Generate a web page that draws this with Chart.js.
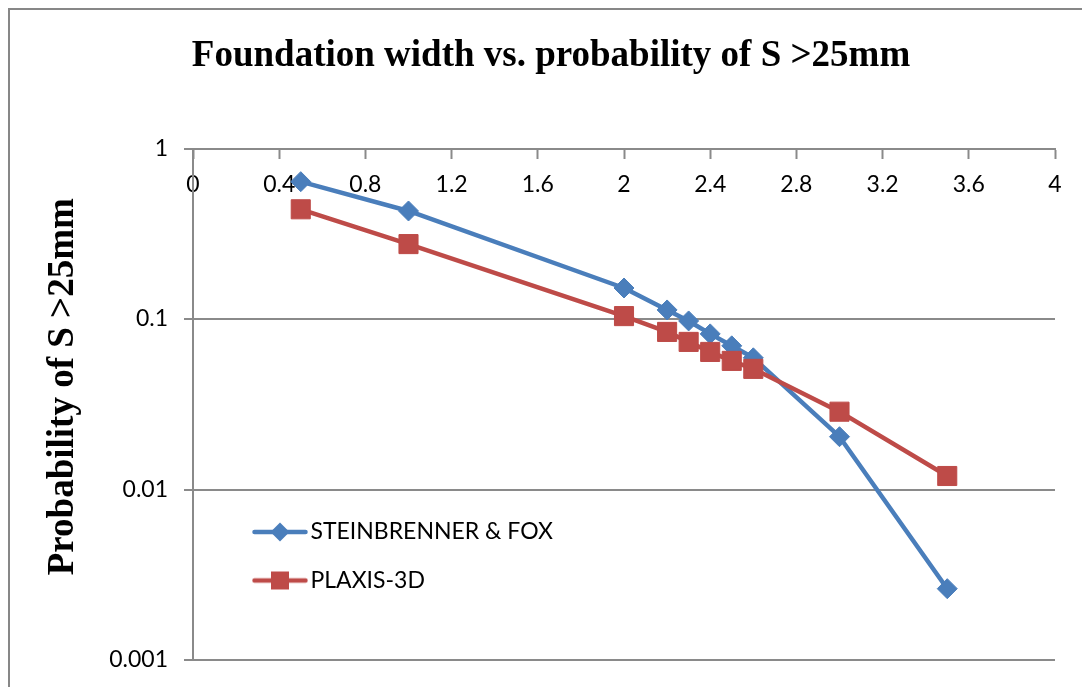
<!DOCTYPE html>
<html>
<head>
<meta charset="utf-8">
<script src="https://cdn.jsdelivr.net/npm/chart.js@4.4.1/dist/chart.umd.min.js"></script>
<style>
  html, body { margin: 0; padding: 0; background: #fff; overflow: hidden; width: 1082px; height: 687px; }
  #frame { position: absolute; left: 8px; top: 8px; width: 1200px; height: 800px; border: 2px solid #878787; box-sizing: border-box; }
  #wrap { position: absolute; left: 0; top: 0; width: 1102px; height: 700px; }
</style>
</head>
<body>
<div id="frame"></div>
<div id="wrap"><canvas id="chart" width="1102" height="700"></canvas></div>
<script>
// Foundation width B (m)
const widths = [0.5, 1.0, 2.0, 2.2, 2.3, 2.4, 2.5, 2.6, 3.0, 3.5];
// Probability of settlement exceeding 25 mm
const steinbrennerFox = [0.639, 0.430, 0.152, 0.113, 0.0974, 0.0818, 0.0696, 0.0592, 0.0204, 0.00262];
const plaxis3d = [0.440, 0.275, 0.104, 0.084, 0.0734, 0.0641, 0.0568, 0.051, 0.0286, 0.0120];
const seriesNames = ['STEINBRENNER & FOX', 'PLAXIS-3D'];
const xTicks = [0, 0.4, 0.8, 1.2, 1.6, 2, 2.4, 2.8, 3.2, 3.6, 4];
const yTicks = [0.001, 0.01, 0.1, 1];
const chartTitle = 'Foundation width vs. probability of S >25mm';
const yAxisTitle = 'Probability of S >25mm';

const BLUE = '#4A7EBB';
const RED = '#BE4B48';
const AXIS_GREY = '#8a8a8a';
const SANS = 'Lato';
const SERIF = '"Liberation Serif", "Times New Roman", serif';

// Legend swatch: line segment with the series marker in the middle
function makeSwatch(color, shape) {
  const c = document.createElement('canvas');
  c.width = 58; c.height = 24;
  const g = c.getContext('2d');
  g.strokeStyle = color;
  g.lineWidth = 4.5;
  g.lineCap = 'round';
  g.beginPath(); g.moveTo(3.5, 12); g.lineTo(54.5, 12); g.stroke();
  g.fillStyle = color;
  g.beginPath();
  if (shape === 'diamond') {
    g.moveTo(29, 2.5); g.lineTo(38.5, 12); g.lineTo(29, 21.5); g.lineTo(19.5, 12); g.closePath();
  } else {
    g.rect(20, 3, 18, 18);
  }
  g.fill();
  return c;
}
const swatches = [makeSwatch(BLUE, 'diamond'), makeSwatch(RED, 'square')];

const toPoints = (ys) => widths.map((x, i) => ({ x, y: ys[i] }));

// Places the legend box inside the plot area, lower left
const legendPlacement = {
  id: 'legendPlacement',
  afterUpdate(chart) {
    const lg = chart.legend, ca = chart.chartArea;
    if (!lg) return;
    const w = lg.width, h = lg.height;
    lg.left = ca.left + 42.5;
    lg.top = ca.top + 346.5;
    lg.right = lg.left + w;
    lg.bottom = lg.top + h;
  }
};

// Rotated value-axis title, centred on the full chart height
const valueAxisTitle = {
  id: 'valueAxisTitle',
  afterDraw(chart) {
    const ctx = chart.ctx, ca = chart.chartArea;
    ctx.save();
    ctx.font = 'bold 37px ' + SERIF;
    ctx.fillStyle = '#000';
    ctx.textAlign = 'center';
    ctx.textBaseline = 'alphabetic';
    ctx.translate(73, (ca.top + ca.bottom) / 2 - 17.5);
    ctx.rotate(-Math.PI / 2);
    ctx.fillText(yAxisTitle, 0, 0);
    ctx.restore();
  }
};

new Chart(document.getElementById('chart'), {
  type: 'line',
  data: {
    datasets: [
      {
        label: seriesNames[0],
        data: toPoints(steinbrennerFox),
        borderColor: BLUE,
        backgroundColor: BLUE,
        borderWidth: 4.5,
        pointStyle: 'rectRot',
        pointRadius: 10,
        pointBorderWidth: 1,
        pointBackgroundColor: BLUE,
        pointBorderColor: BLUE,
        borderJoinStyle: 'round',
        borderCapStyle: 'round',
        order: 1
      },
      {
        label: seriesNames[1],
        data: toPoints(plaxis3d),
        borderColor: RED,
        backgroundColor: RED,
        borderWidth: 4.5,
        pointStyle: 'rect',
        pointRadius: 13.5,
        pointBorderWidth: 1,
        pointBackgroundColor: RED,
        pointBorderColor: RED,
        borderJoinStyle: 'round',
        borderCapStyle: 'round',
        order: 0
      }
    ]
  },
  options: {
    responsive: false,
    animation: false,
    devicePixelRatio: 1,
    layout: { padding: { left: 47, right: 47, top: 0, bottom: 40 } },
    scales: {
      x: {
        type: 'linear',
        position: { y: 1 },
        min: 0,
        max: 4,
        afterBuildTicks: (scale) => { scale.ticks = xTicks.map(v => ({ value: v })); },
        ticks: {
          font: { family: SANS, size: 23 },
          color: '#000',
          padding: 12.9,
          maxRotation: 0,
          autoSkip: false,
          callback: (v) => String(Number(v.toFixed(1)))
        },
        grid: { drawOnChartArea: false, drawTicks: true, tickLength: 9, tickColor: AXIS_GREY, tickWidth: 2 },
        border: { display: true, color: AXIS_GREY, width: 2 }
      },
      y: {
        type: 'logarithmic',
        position: 'left',
        min: 0.001,
        max: 1,
        afterBuildTicks: (scale) => { scale.ticks = yTicks.map(v => ({ value: v })); },
        afterFit: (scale) => { scale.width = 146; },
        ticks: {
          font: { family: SANS, size: 23 },
          color: '#000',
          padding: 16,
          autoSkip: false,
          callback: (v) => String(v)
        },
        grid: { color: AXIS_GREY, lineWidth: 2, drawTicks: true, tickLength: 9, tickColor: AXIS_GREY, tickWidth: 2 },
        border: { display: true, color: AXIS_GREY, width: 2 }
      }
    },
    plugins: {
      title: {
        display: true,
        text: chartTitle,
        color: '#000',
        font: { family: SERIF, size: 37, weight: 'bold' },
        padding: { top: 34, bottom: 70.1 }
      },
      legend: {
        display: true,
        position: 'chartArea',
        align: 'start',
        labels: {
          usePointStyle: true,
          pointStyleWidth: 38,
          padding: 25.5,
          color: '#000',
          font: { family: SANS, size: 23 },
          sort: (a, b) => a.datasetIndex - b.datasetIndex,
          generateLabels: (chart) => Chart.defaults.plugins.legend.labels.generateLabels(chart)
            .map(item => Object.assign({}, item, { pointStyle: swatches[item.datasetIndex] }))
        }
      },
      tooltip: { enabled: false }
    }
  },
  plugins: [legendPlacement, valueAxisTitle]
});
</script>
</body>
</html>
